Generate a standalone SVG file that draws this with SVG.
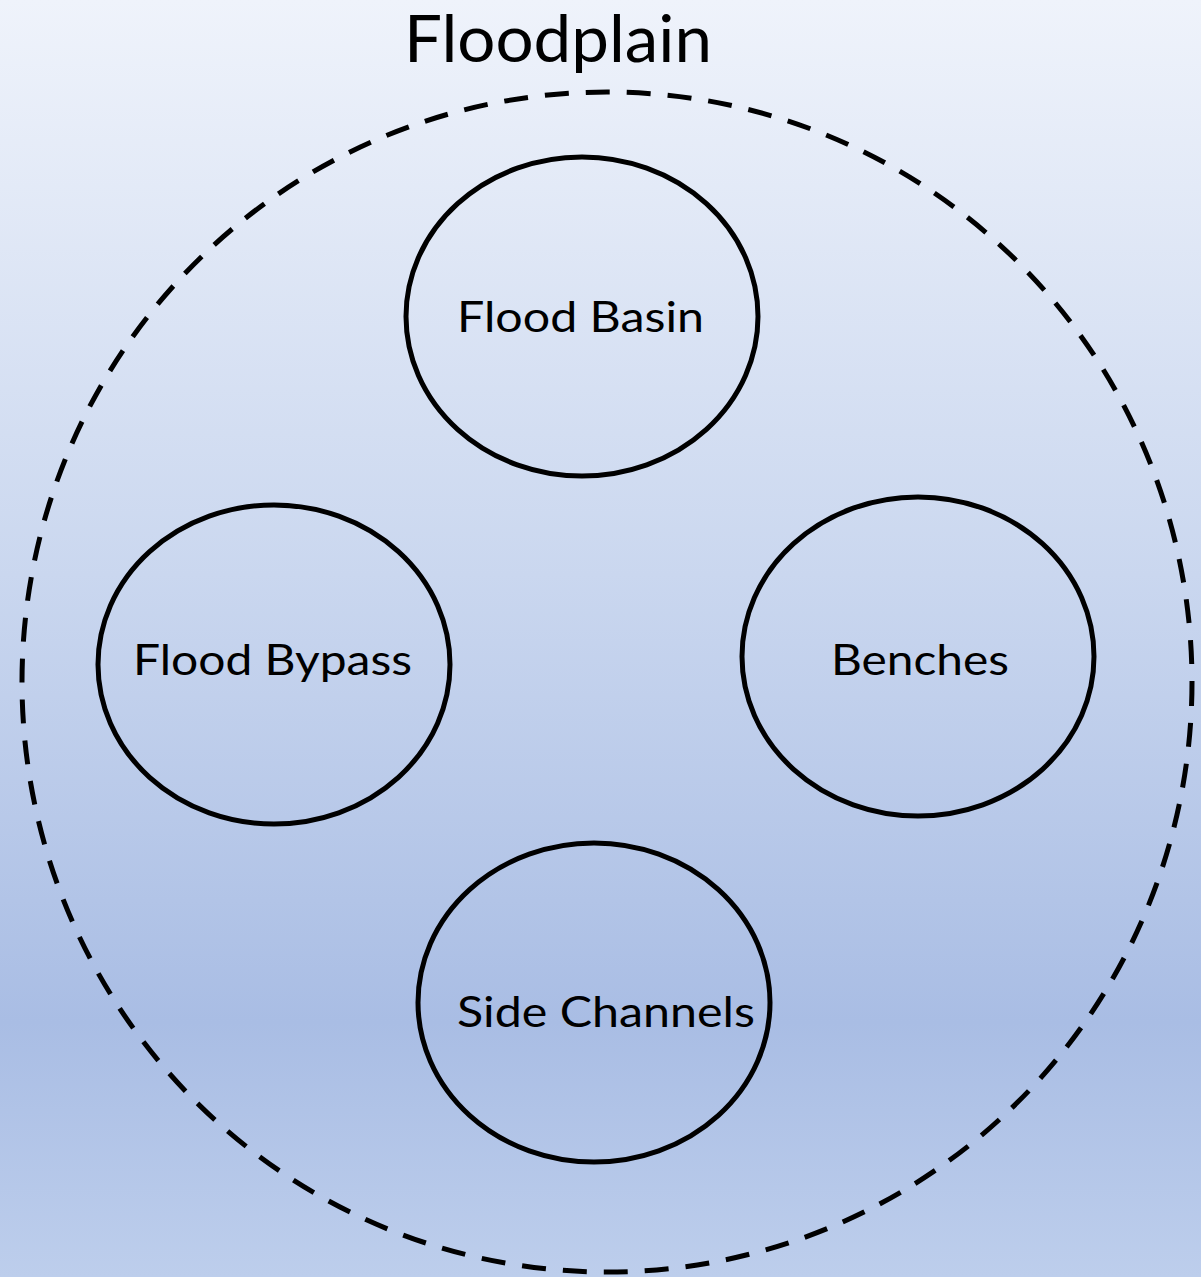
<svg xmlns="http://www.w3.org/2000/svg" width="1201" height="1277" viewBox="0 0 1201 1277">
<defs>
<linearGradient id="bg" x1="0" y1="0" x2="0" y2="1">
<stop offset="0" stop-color="#EFF3FB"/>
<stop offset="0.45" stop-color="#CAD7EF"/>
<stop offset="0.8" stop-color="#A9BDE4"/>
<stop offset="1" stop-color="#BDCEEC"/>
</linearGradient>
<style>
.node{fill:none;stroke:#000;stroke-width:5}
.lbl{font-family:Lato,"Liberation Sans",sans-serif;font-size:43px;fill:#000;text-anchor:middle}
.outer{fill:none;stroke:#000;stroke-width:5;stroke-dasharray:24 17}
</style>
</defs>
<rect x="0" y="0" width="1201" height="1277" fill="url(#bg)"/>
<g id="floodplain">
<ellipse class="outer" cx="607" cy="682" rx="585" ry="590"/>
<text x="558" y="62" style="font-family:Lato,'Liberation Sans',sans-serif;font-size:66px;text-anchor:middle" textLength="308" lengthAdjust="spacingAndGlyphs">Floodplain</text>
</g>
<g id="connectors"></g>
<g id="flood-basin">
<ellipse class="node" cx="582" cy="316.5" rx="176" ry="159.5"/>
<text class="lbl" x="580.5" y="332" textLength="247" lengthAdjust="spacingAndGlyphs">Flood Basin</text>
</g>
<g id="flood-bypass">
<ellipse class="node" cx="274" cy="664.5" rx="176" ry="159.5"/>
<text class="lbl" x="272.5" y="675" textLength="279" lengthAdjust="spacingAndGlyphs">Flood Bypass</text>
</g>
<g id="benches">
<ellipse class="node" cx="918" cy="656.5" rx="176" ry="159.5"/>
<text class="lbl" x="920" y="675" textLength="178" lengthAdjust="spacingAndGlyphs">Benches</text>
</g>
<g id="side-channels">
<ellipse class="node" cx="594" cy="1002.5" rx="176" ry="159.5"/>
<text class="lbl" x="606" y="1027" textLength="298" lengthAdjust="spacingAndGlyphs">Side Channels</text>
</g>
</svg>
